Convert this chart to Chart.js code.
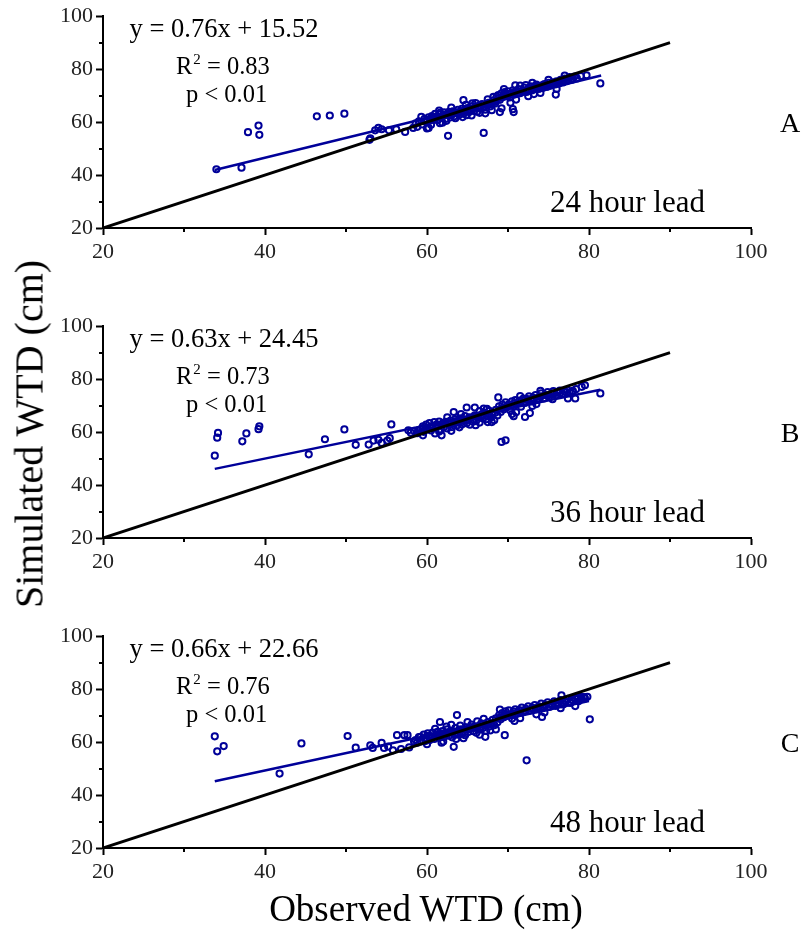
<!DOCTYPE html>
<html>
<head>
<meta charset="utf-8">
<script src="https://cdn.jsdelivr.net/npm/chart.js@4.4.1/dist/chart.umd.min.js"></script>
<style>
  body { margin: 0; background: #fff; width: 806px; height: 932px; position: relative; overflow: hidden; font-family: "Liberation Serif", "Times New Roman", serif; }
  canvas.panel { position: absolute; left: 0; }
  #ytitle { position: absolute; left: 29px; top: 434px; transform: translate(-50%, -50%) rotate(-90deg); font-size: 40px; white-space: nowrap; color: #000; }
  #xtitle { position: absolute; left: 426px; top: 908px; transform: translate(-50%, -50%); font-size: 37px; white-space: nowrap; color: #000; }
</style>
</head>
<body>
<canvas id="panel-a" class="panel" width="806" height="300" style="top:0px"></canvas>
<canvas id="panel-b" class="panel" width="806" height="300" style="top:310px"></canvas>
<canvas id="panel-c" class="panel" width="806" height="300" style="top:620px"></canvas>
<div id="ytitle">Simulated WTD (cm)</div>
<div id="xtitle">Observed WTD (cm)</div>
<script>
// axis setup
const AXIS_MIN = 20;
const AXIS_MAX = 100;
const MINOR_TICKS = [30, 50, 70, 90];

// panel text
const equations = ["y = 0.76x + 15.52", "y = 0.63x + 24.45", "y = 0.66x + 22.66"];
const r2Values = ["0.83", "0.73", "0.76"];
const pValues = ["p < 0.01", "p < 0.01", "p < 0.01"];
const panelLetters = ["A", "B", "C"];
const leadLabels = ["24 hour lead", "36 hour lead", "48 hour lead"];

// 1:1 line
const oneToOne = [[20, 20], [90, 90]];

// fitted regression lines (ends)
const fitA = [[33.8, 41.9], [81.5, 77.6]];
const fitB = [[33.8, 46.1], [81.4, 76.0]];
const fitC = [[33.8, 45.2], [80.0, 75.5]];

// observed vs simulated, 24 h lead
const pointsA = [
  [34.0,42.2],[37.1,42.8],[37.9,56.2],[39.2,58.7],[39.3,55.2],[46.4,62.2],[48.0,62.5],[49.8,63.2],
  [52.9,53.3],[53.0,53.9],[53.6,56.9],[54.0,57.8],[54.4,57.3],[55.3,56.9],[56.2,57.3],[57.3,56.3],
  [58.3,57.8],[58.8,58.2],[59.3,62.0],[60.0,57.6],[60.2,57.8],[61.6,59.6],[62.6,54.8],[64.5,68.3],
  [67.0,55.9],[69.0,63.8],[70.7,63.8],[70.6,64.9],[69.2,65.2],[70.9,73.9],[75.9,70.4],[79.7,77.7],[81.4,74.6],
  [58.6,59.5],[59.0,60.3],[59.4,59.1],[59.7,61.2],[59.9,60.0],[60.2,61.8],[60.4,60.6],[60.6,62.3],
  [60.8,61.0],[61.0,63.1],[61.1,62.0],[61.3,60.7],[61.5,62.9],[61.6,63.5],[61.8,61.6],[62.0,62.4],
  [62.1,63.7],[62.3,61.2],[62.5,62.9],[62.7,63.9],[62.9,61.8],[63.0,62.6],[63.2,64.1],[63.4,62.2],
  [63.6,63.3],[63.8,64.6],[64.0,62.8],[64.1,63.9],[64.3,65.0],[64.5,63.2],[64.7,64.4],[64.9,62.6],
  [65.0,65.3],[65.2,63.8],[65.4,64.8],[65.6,66.0],[65.8,64.2],[66.0,65.4],[66.2,63.9],[66.4,66.1],
  [66.6,65.0],[66.8,66.8],[67.0,65.6],[67.2,64.7],[67.4,66.5],[67.6,67.3],[67.8,65.9],[68.0,66.8],
  [68.2,68.2],[68.4,67.0],[68.6,69.6],[68.8,70.2],[69.0,68.4],[69.2,70.9],[69.4,69.5],[69.6,71.3],
  [69.8,70.0],[70.0,71.6],[70.2,69.3],[70.4,70.8],[70.6,72.0],[70.8,70.4],[71.0,71.7],[71.3,72.5],
  [71.5,70.9],[71.8,72.0],[72.0,73.0],[72.3,71.4],[72.5,72.6],[72.8,73.5],[73.0,72.0],[73.3,73.2],
  [73.5,74.2],[73.8,72.5],[74.0,73.6],[74.3,72.9],[74.5,74.4],[74.8,73.3],[75.0,74.8],[75.2,73.7],
  [75.5,75.0],[75.8,74.2],[76.0,75.4],[76.3,74.6],[76.5,76.0],[76.8,75.0],[77.0,76.4],[77.3,75.5],
  [77.6,77.0],[77.9,76.0],[78.2,77.2],[78.5,76.5],[79.0,77.4],
  [60.5,59.0],[61.9,59.8],[63.5,61.5],[65.5,62.5],[66.5,63.5],[68.0,64.5],[71.0,68.5],[72.5,69.8],
  [74.0,71.0],[76.0,72.5],[61.5,64.3],[63.0,65.5],[64.8,66.5],[66.0,67.2],[67.5,68.6],[69.5,72.5],
  [71.5,73.8],[73.0,74.8],[75.0,76.0],[77.0,77.6],
  [60.0,60.8],[60.7,61.6],[61.4,61.9],[62.2,62.8],[62.8,63.1],[63.5,63.8],[64.2,64.2],[64.8,65.0],
  [65.3,64.4],[65.9,65.7],[66.5,66.2],[67.1,66.0],[67.7,66.9],[68.3,67.6],[68.9,69.1],[69.5,70.4],
  [70.1,70.6],[70.7,71.2],[71.2,71.1],[71.8,71.6],[72.4,72.1],[73.0,72.8],[73.6,73.6],[74.2,73.9],
  [74.9,74.1],[75.5,74.4],[76.1,75.0],[76.8,75.7],[77.4,76.2],[78.0,76.6],[62.4,60.5],[64.4,61.9],
  [67.2,63.3],[70.3,67.3],[73.2,70.6],[65.6,67.1],[68.2,69.5],[72.2,74.0]
];

// observed vs simulated, 36 h lead
const pointsB = [
  [33.8,51.1],[34.1,57.9],[34.2,59.7],[37.2,56.5],[37.7,59.5],[39.2,61.1],[39.3,62.2],[45.4,51.6],
  [47.4,57.3],[49.8,61.0],[51.2,55.2],[52.8,55.3],[53.4,56.8],[54.0,57.1],[54.4,55.9],[55.1,56.8],
  [55.4,57.7],[55.6,62.9],[57.7,60.7],[58.9,60.7],[59.5,62.2],[59.5,58.8],[61.8,58.8],[69.2,56.3],
  [69.7,56.9],[72.1,65.7],[72.7,67.2],[70.7,66.0],[77.4,72.7],[78.3,72.7],[79.1,77.1],[79.5,77.7],
  [81.4,74.6],[64.9,69.3],[65.9,69.3],[67.0,68.9],[63.3,67.6],[68.8,73.1],
  [58.0,59.8],[58.4,60.5],[58.8,59.6],[59.2,61.0],[59.6,60.1],[59.9,62.8],[60.1,61.3],[60.3,63.4],
  [60.5,60.6],[60.7,62.2],[60.9,63.8],[61.1,61.5],[61.3,62.6],[61.5,64.0],[61.7,60.9],[61.9,63.1],
  [62.1,62.0],[62.3,63.9],[62.5,61.4],[62.7,62.8],[62.9,64.3],[63.1,61.9],[63.3,63.3],[63.5,64.9],
  [63.7,62.5],[63.9,63.7],[64.1,65.2],[64.3,62.9],[64.5,64.2],[64.7,66.0],[64.9,63.3],[65.1,64.6],
  [65.3,62.8],[65.5,65.5],[65.7,63.9],[65.9,66.3],[66.1,64.5],[66.3,65.7],[66.5,63.6],[66.7,66.6],
  [66.9,65.1],[67.1,67.3],[67.3,64.9],[67.5,66.2],[67.7,68.0],[67.9,65.6],[68.1,67.1],[68.3,64.5],
  [68.5,68.4],[68.7,66.3],[68.9,69.7],[69.1,67.6],[69.3,70.4],[69.5,68.6],[69.7,71.2],[69.9,69.4],
  [70.1,70.5],[70.3,68.2],[70.5,71.6],[70.7,69.7],[70.9,72.1],[71.1,70.6],[71.4,71.9],[71.6,69.6],
  [71.9,72.7],[72.1,71.0],[72.4,72.5],[72.6,73.5],[72.9,71.6],[73.1,73.0],[73.4,74.0],[73.6,72.2],
  [73.9,73.5],[74.1,74.6],[74.4,72.7],[74.6,74.0],[74.9,75.1],[75.1,73.4],[75.4,74.6],[75.6,75.5],
  [75.9,73.9],[76.1,74.9],[76.4,75.7],[76.7,74.4],[77.0,75.4],[77.3,76.0],[77.6,74.9],[78.0,75.6],
  [78.4,76.2],
  [61.0,59.5],[63.0,60.5],[66.0,62.6],[67.5,63.8],[71.0,67.5],[73.5,70.6],[75.5,72.4],[62.5,65.6],
  [66.5,67.9],[74.0,75.6],
  [59.5,61.5],[60.4,62.0],[61.2,62.9],[62.0,63.4],[62.8,63.6],[63.6,64.2],[64.4,64.8],[65.2,65.6],
  [66.0,65.9],[66.8,66.0],[67.6,66.8],[68.4,67.3],[69.2,68.9],[70.0,69.8],[70.8,70.9],[71.6,71.4],
  [72.4,72.0],[73.2,72.6],[74.0,73.3],[74.8,73.9],[75.6,74.3],[76.4,74.8],[77.2,75.0],[78.0,75.1],
  [61.5,60.2],[64.0,61.8],[68.0,63.8],[70.5,66.8],[73.0,69.9],[64.2,66.8],[67.4,68.8],[71.5,73.6]
];

// observed vs simulated, 48 h lead
const pointsC = [
  [33.8,62.2],[34.1,56.5],[34.9,58.5],[41.8,48.1],[44.5,59.5],[50.2,62.3],[51.2,57.9],[53.0,58.8],
  [53.3,57.8],[54.4,59.7],[54.7,57.8],[55.2,58.3],[55.8,56.9],[56.3,62.6],[56.8,57.4],[57.2,62.6],
  [57.6,62.6],[57.8,58.0],[58.4,60.2],[58.8,59.8],[59.8,60.4],[61.6,67.6],[61.8,59.8],[63.3,58.2],
  [63.7,70.2],[67.2,62.0],[69.6,62.6],[72.3,53.1],[74.2,69.5],[76.6,77.7],[78.3,73.6],[78.6,77.1],
  [79.0,77.2],[79.4,77.0],[79.8,77.1],[80.1,68.6],
  [58.6,60.8],[59.0,61.9],[59.3,60.3],[59.6,62.8],[59.9,61.4],[60.1,63.3],[60.3,60.7],[60.5,62.2],
  [60.7,63.6],[60.9,61.2],[61.1,62.7],[61.3,63.9],[61.5,61.6],[61.7,62.9],[61.9,64.2],[62.1,61.9],
  [62.3,63.2],[62.5,64.8],[62.7,62.4],[62.9,63.6],[63.1,61.8],[63.3,64.0],[63.5,65.3],[63.7,62.8],
  [63.9,64.3],[64.1,66.2],[64.3,63.1],[64.5,64.7],[64.7,62.6],[64.9,65.6],[65.1,63.8],[65.3,65.0],
  [65.5,66.6],[65.7,64.1],[65.9,65.4],[66.1,63.5],[66.3,66.0],[66.5,64.7],[66.7,67.1],[66.9,65.3],
  [67.1,66.4],[67.3,64.2],[67.5,67.6],[67.7,65.9],[67.9,67.0],[68.1,68.4],[68.3,66.4],[68.5,69.0],
  [68.7,67.5],[68.9,70.1],[69.1,68.6],[69.3,71.0],[69.5,69.4],[69.7,71.6],[69.9,70.0],[70.1,72.0],
  [70.3,70.5],[70.5,68.9],[70.7,71.5],[70.9,72.4],[71.1,70.8],[71.4,72.1],[71.7,73.0],[71.9,71.4],
  [72.2,72.6],[72.5,73.5],[72.7,71.9],[73.0,73.0],[73.3,74.0],[73.5,72.4],[73.8,73.5],[74.1,74.5],
  [74.3,72.8],[74.6,74.0],[74.9,75.0],[75.1,73.3],[75.4,74.4],[75.7,75.4],[75.9,73.7],[76.2,74.8],
  [76.5,75.9],[76.8,74.2],[77.1,75.2],[77.4,76.3],[77.7,74.8],[78.0,75.8],[78.3,76.5],[78.7,75.4],
  [79.1,76.2],[79.5,76.5],
  [60.0,59.2],[62.0,60.2],[64.5,61.5],[66.5,62.8],[68.5,64.8],[71.5,69.0],[74.5,71.2],[76.5,72.8],
  [61.0,65.0],[63.0,66.5],[65.0,67.6],[67.0,68.8],
  [59.2,62.0],[60.2,62.4],[61.0,62.3],[61.8,63.3],[62.6,63.6],[63.4,63.0],[64.2,64.8],[65.0,64.9],
  [65.8,65.9],[66.6,65.7],[67.4,66.6],[68.2,67.2],[69.0,69.3],[69.8,70.6],[70.6,70.9],[71.4,71.3],
  [72.2,71.8],[73.0,72.6],[73.8,73.0],[74.6,73.8],[75.4,74.1],[76.2,74.4],[77.0,75.6],[77.8,76.0],
  [78.6,76.3],[63.6,61.2],[67.8,64.4],[70.8,68.0],[73.5,70.5],[62.4,65.9],[66.2,67.8],[69.0,72.3]
];

const SERIF = '"Liberation Serif", "Times New Roman", serif';
const NAVY = "#000099";

const toXY = arr => arr.map(p => ({ x: p[0], y: p[1] }));

// draws minor ticks and the in-panel text
const overlayPlugin = {
  id: "overlay",
  afterDraw(chart, args, opts) {
    const i = opts.idx;
    const ctx = chart.ctx;
    const xs = chart.scales.x, ys = chart.scales.y;
    const area = chart.chartArea;

    ctx.save();
    ctx.strokeStyle = "#000";
    ctx.lineWidth = 2;
    MINOR_TICKS.forEach(v => {
      const px = Math.round(xs.getPixelForValue(v));
      ctx.beginPath();
      ctx.moveTo(px, area.bottom);
      ctx.lineTo(px, area.bottom + 4);
      ctx.stroke();
      const py = Math.round(ys.getPixelForValue(v));
      ctx.beginPath();
      ctx.moveTo(area.left, py);
      ctx.lineTo(area.left - 4, py);
      ctx.stroke();
    });

    ctx.fillStyle = "#000";
    ctx.textBaseline = "alphabetic";

    ctx.font = `26.5px ${SERIF}`;
    ctx.textAlign = "center";
    ctx.fillText(equations[i], area.left + 121, area.top + 21);

    ctx.font = `24.5px ${SERIF}`;
    ctx.textAlign = "left";
    let x0 = area.left + 73;
    const yR = area.top + 57.5;
    ctx.fillText("R", x0, yR);
    x0 += ctx.measureText("R").width + 1;
    ctx.font = `15px ${SERIF}`;
    ctx.fillText("2", x0, yR - 10);
    x0 += ctx.measureText("2").width;
    ctx.font = `24.5px ${SERIF}`;
    ctx.fillText(" = " + r2Values[i], x0, yR);

    ctx.fillText(pValues[i], area.left + 83, area.top + 86);

    ctx.font = `28px ${SERIF}`;
    ctx.textAlign = "center";
    ctx.fillText(panelLetters[i], 790, area.top + 115.5);

    ctx.font = `31px ${SERIF}`;
    ctx.textAlign = "left";
    ctx.fillText(leadLabels[i], 550, area.bottom - 16);
    ctx.restore();
  },
};

function makePanel(canvasId, idx, points, fit) {
  const ctx = document.getElementById(canvasId).getContext("2d");
  return new Chart(ctx, {
    type: "scatter",
    data: {
      datasets: [
        {
          data: toXY(oneToOne),
          showLine: true,
          borderColor: "#000",
          borderWidth: 3,
          pointRadius: 0,
        },
        {
          data: toXY(fit),
          showLine: true,
          borderColor: NAVY,
          borderWidth: 2.5,
          pointRadius: 0,
        },
        {
          data: toXY(points),
          pointRadius: 3.1,
          pointBorderWidth: 2,
          pointBorderColor: NAVY,
          pointBackgroundColor: "rgba(0,0,0,0)",
        },
      ],
    },
    options: {
      responsive: false,
      animation: false,
      devicePixelRatio: 1,
      layout: { padding: { top: 16, right: 55, left: 0, bottom: 0 } },
      plugins: {
        legend: { display: false },
        tooltip: { enabled: false },
        overlay: { idx },
      },
      scales: {
        x: {
          type: "linear",
          min: AXIS_MIN, max: AXIS_MAX,
          afterFit: s => { s.height = 72; },
          ticks: { stepSize: 20, color: "#222", padding: 4, font: { size: 22, family: SERIF }, maxRotation: 0 },
          grid: { drawOnChartArea: false, drawTicks: true, tickLength: 7, tickWidth: 2, tickColor: "#000" },
          border: { display: true, color: "#000", width: 2 },
        },
        y: {
          type: "linear",
          min: AXIS_MIN, max: AXIS_MAX,
          afterFit: s => { s.width = 103; },
          ticks: { stepSize: 20, color: "#222", padding: 3, font: { size: 22, family: SERIF } },
          grid: { drawOnChartArea: false, drawTicks: true, tickLength: 7, tickWidth: 2, tickColor: "#000" },
          border: { display: true, color: "#000", width: 2 },
        },
      },
    },
    plugins: [overlayPlugin],
  });
}

makePanel("panel-a", 0, pointsA, fitA);
makePanel("panel-b", 1, pointsB, fitB);
makePanel("panel-c", 2, pointsC, fitC);
</script>
</body>
</html>
